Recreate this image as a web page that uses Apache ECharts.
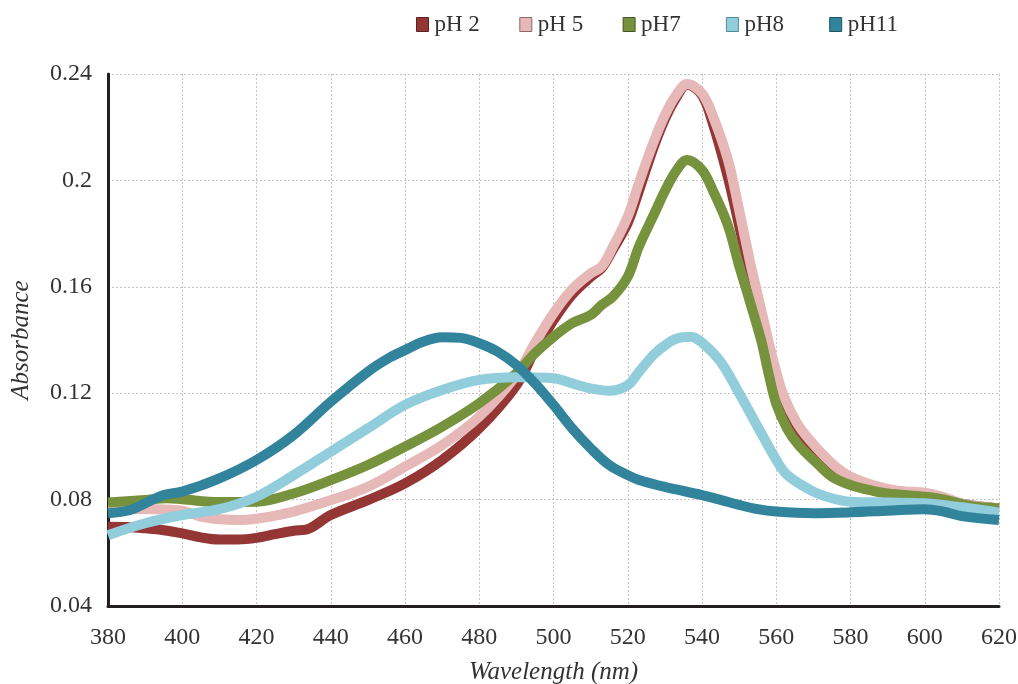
<!DOCTYPE html>
<html>
<head>
<meta charset="utf-8">
<script src="https://cdn.jsdelivr.net/npm/echarts@6/dist/echarts.min.js"></script>
<style>html,body{margin:0;padding:0;background:#fff}#chart{width:1018px;height:684px}</style>
</head>
<body>
<div id="chart"></div>
<script>
const seriesNames = ['pH 2', 'pH 5', 'pH7', 'pH8', 'pH11'];
const seriesColors = ['#943634', '#e6b8b7', '#76923c', '#92cddc', '#31849b'];
const legendBorders = ['#5e2220', '#8c6968', '#44561f', '#4f8a99', '#1c5666'];

const ph2 = [[380,0.0698],[385,0.0697],[390,0.0692],[395,0.0685],[400,0.0673],[405,0.0658],[410,0.065],[415,0.065],[420,0.0656],[425,0.067],[430,0.0683],[434,0.069],[440,0.0742],[450,0.0798],[460,0.0861],[470,0.0949],[480,0.1068],[490,0.123],[495,0.1361],[500,0.1474],[505,0.157],[510,0.1637],[513,0.167],[516,0.174],[520,0.184],[523,0.196],[527,0.2125],[530,0.223],[533,0.231],[536,0.236],[540,0.232],[543,0.221],[547,0.201],[550,0.183],[553,0.164],[555,0.152],[558,0.134],[560,0.124],[565,0.107],[570,0.098],[575,0.091],[580,0.087],[590,0.0835],[600,0.0822],[610,0.0785],[620,0.0767]];
const ph5 = [[380,0.0764],[390,0.0765],[400,0.0758],[405,0.0736],[410,0.0726],[415,0.0723],[420,0.0728],[430,0.0755],[440,0.0798],[450,0.0848],[460,0.0924],[470,0.1005],[480,0.1112],[490,0.1268],[495,0.1388],[500,0.15],[505,0.159],[510,0.165],[513,0.1676],[516,0.175],[520,0.1864],[523,0.199],[527,0.2145],[530,0.2245],[533,0.232],[536,0.2362],[540,0.2327],[543,0.224],[547,0.2077],[550,0.1889],[553,0.169],[555,0.157],[558,0.139],[560,0.128],[562,0.119],[565.5,0.109],[569,0.1024],[575,0.0936],[580,0.0886],[586,0.0855],[593,0.0833],[600,0.0826],[605,0.081],[610,0.0785],[620,0.0767]];
const ph7 = [[380,0.0789],[390,0.0799],[396,0.0805],[400,0.0801],[410,0.0791],[420,0.0792],[430,0.0823],[440,0.0873],[450,0.093],[460,0.0999],[470,0.1074],[480,0.1162],[490,0.1275],[495,0.135],[500,0.1412],[505,0.1463],[510,0.1494],[513,0.1532],[516,0.1563],[520,0.1638],[523,0.1751],[527,0.187],[530,0.196],[533,0.2035],[536,0.2077],[540,0.2039],[543,0.196],[547,0.183],[550,0.168],[553,0.154],[556,0.1395],[558,0.127],[560,0.116],[563,0.1065],[566,0.1005],[571,0.0936],[575,0.0886],[580,0.0855],[586,0.0833],[590,0.0823],[600,0.0811],[605,0.0801],[610,0.0783],[615,0.0771],[620,0.0767]];
const ph8 = [[380,0.0666],[390,0.0711],[400,0.0742],[410,0.0764],[420,0.0811],[430,0.0892],[440,0.098],[450,0.1068],[460,0.1156],[470,0.1212],[480,0.125],[490,0.126],[500,0.1256],[505,0.1237],[510,0.1218],[515,0.1209],[520,0.123],[523,0.128],[527,0.1345],[530,0.138],[533,0.1405],[537,0.1412],[540,0.139],[545,0.1318],[550,0.12],[555,0.1074],[560,0.0949],[563,0.0892],[570,0.083],[575,0.0805],[580,0.0792],[590,0.0789],[600,0.0786],[610,0.0771],[620,0.0751]];
const ph11 = [[380,0.0749],[386,0.0761],[390,0.0786],[395,0.0817],[400,0.083],[410,0.088],[420,0.0949],[430,0.1043],[440,0.1168],[450,0.1281],[456,0.1335],[460,0.1362],[465,0.1394],[470,0.141],[475,0.1408],[480,0.1388],[485,0.1356],[490,0.1306],[495,0.1237],[500,0.1156],[505,0.1068],[510,0.0993],[515,0.093],[520,0.0892],[523,0.0874],[530,0.0848],[540,0.0817],[545,0.0799],[550,0.078],[555,0.0764],[560,0.0755],[570,0.0749],[580,0.0752],[590,0.0758],[600,0.0764],[605,0.0755],[610,0.0738],[620,0.0723]];
const allData = [ph2, ph5, ph7, ph8, ph11];

const xTitle = 'Wavelength (nm)';
const yTitle = 'Absorbance';

const FONT = '"Liberation Serif", "DejaVu Serif", serif';
const chart = echarts.init(document.getElementById('chart'), null, {renderer: 'canvas'});
chart.setOption({
  animation: false,
  backgroundColor: '#ffffff',
  legend: seriesNames.map((n, i) => ({
    left: 416 + 103.3 * i, top: 13, padding: 0,
    icon: 'rect', itemWidth: 12, itemHeight: 14,
    textStyle: {fontFamily: FONT, fontSize: 23, color: '#333', padding: [0, 0, 0, 1]},
    data: [{name: n, itemStyle: {color: seriesColors[i], borderColor: legendBorders[i], borderWidth: 1}}]
  })),
  grid: {left: 108, right: 19, top: 74, bottom: 78, containLabel: false, outerBoundsMode: 'none'},
  xAxis: {
    type: 'value', min: 380, max: 620, interval: 20,
    name: xTitle, nameLocation: 'middle', nameGap: 54,
    nameTextStyle: {fontFamily: FONT, fontStyle: 'italic', fontSize: 25, color: '#333'},
    axisLine: {show: true, onZero: false, lineStyle: {color: '#231f20', width: 3}},
    axisTick: {show: false},
    axisLabel: {fontFamily: FONT, fontSize: 24, color: '#333', margin: 20},
    splitLine: {show: true, lineStyle: {color: '#c4c4c4', type: [2, 2], width: 1}}
  },
  yAxis: {
    type: 'value', min: 0.04, max: 0.24, interval: 0.04,
    name: yTitle, nameLocation: 'middle', nameGap: 74, nameRotate: 90,
    nameTextStyle: {fontFamily: FONT, fontStyle: 'italic', fontSize: 25, color: '#333'},
    axisLine: {show: true, onZero: false, lineStyle: {color: '#231f20', width: 3}},
    axisTick: {show: false},
    axisLabel: {fontFamily: FONT, fontSize: 24, color: '#333', margin: 16,
      formatter: v => String(parseFloat(v.toFixed(2)))},
    splitLine: {show: true, lineStyle: {color: '#c4c4c4', type: [2, 2], width: 1}}
  },
  series: allData.map((d, i) => ({
    name: seriesNames[i], type: 'line', data: d, smooth: 0.35,
    showSymbol: false, symbol: 'none', z: 2 + i,
    lineStyle: {color: seriesColors[i], width: 10},
    itemStyle: {color: seriesColors[i]}
  }))
});
</script>
</body>
</html>
